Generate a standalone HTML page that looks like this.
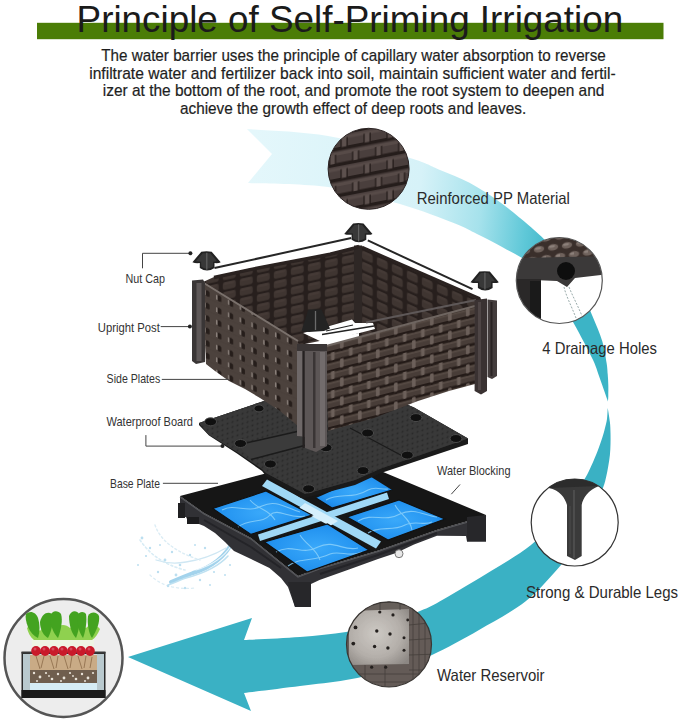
<!DOCTYPE html>
<html><head><meta charset="utf-8">
<style>
html,body{margin:0;padding:0;background:#fff;}
body{width:679px;height:722px;overflow:hidden;position:relative;font-family:"Liberation Sans",sans-serif;}
svg{position:absolute;left:0;top:0;display:block;}
</style></head>
<body>
<svg width="679" height="722" viewBox="0 0 679 722" font-family="Liberation Sans, sans-serif">
<defs>
  <linearGradient id="rib1" gradientUnits="userSpaceOnUse" x1="250" y1="165" x2="560" y2="200">
    <stop offset="0" stop-color="#e4f7fb"/>
    <stop offset="0.55" stop-color="#d6f2f8"/>
    <stop offset="0.75" stop-color="#a6e2ec"/>
    <stop offset="0.9" stop-color="#5fc8d8"/>
    <stop offset="1" stop-color="#3cb4c6"/>
  </linearGradient>
  <!-- weave patterns -->
  <pattern id="wvR" patternUnits="userSpaceOnUse" width="18" height="19" patternTransform="skewY(-14.3)">
    <rect width="18" height="19" fill="#241b18"/>
    <rect x="-1" y="0.8" width="20" height="6.6" rx="2.5" fill="#483d38"/>
    <rect x="-1" y="10.3" width="20" height="6.6" rx="2.5" fill="#483d38"/>
    <rect x="0" y="1.4" width="18" height="1.5" fill="#574b45"/>
    <rect x="0" y="10.9" width="18" height="1.5" fill="#574b45"/>
    <rect x="7" y="-1" width="3.6" height="9" rx="1.2" fill="#6c605a"/>
    <rect x="16" y="8.5" width="3.6" height="9" rx="1.2" fill="#6c605a"/>
    <rect x="-2" y="8.5" width="3.6" height="9" rx="1.2" fill="#6c605a"/>
  </pattern>
  <pattern id="wvL" patternUnits="userSpaceOnUse" width="11.8" height="12.5" patternTransform="skewY(23)">
    <rect width="11.8" height="12.5" fill="#4c423d"/>
    <rect x="0" y="9.5" width="11.8" height="1.5" fill="#4a403b"/>
    <rect x="5" y="2.5" width="4" height="6" rx="1.5" fill="#261e1b"/>
    <rect x="3.6" y="2.8" width="1.5" height="5" rx="0.7" fill="#8a807a"/>
  </pattern>
  <pattern id="wvIn" patternUnits="userSpaceOnUse" width="17" height="9.7" patternTransform="skewY(-12.2)">
    <rect width="17" height="9.7" fill="#271f1d"/>
    <rect x="1.8" y="1" width="13" height="7.5" rx="2" fill="#3f3531"/>
    <rect x="3" y="1.6" width="10" height="2" rx="1" fill="#453a36"/>
  </pattern>
  <pattern id="wvIn2" patternUnits="userSpaceOnUse" width="15" height="11" patternTransform="skewY(24)">
    <rect width="15" height="11" fill="#271f1d"/>
    <rect x="1.8" y="1" width="11" height="8.5" rx="2" fill="#3f3531"/>
    <rect x="3" y="1.6" width="8" height="2" rx="1" fill="#453a36"/>
  </pattern>
  <pattern id="dots" patternUnits="userSpaceOnUse" width="5" height="5" patternTransform="skewY(-18)">
    <rect width="5" height="5" fill="#3b3b3b"/>
    <circle cx="2.5" cy="2.5" r="1.1" fill="#222"/>
  </pattern>
  <pattern id="ppwv" patternUnits="userSpaceOnUse" width="23" height="31" patternTransform="skewY(-11)">
    <rect width="23" height="31" fill="#4a3f3d"/>
    <rect x="0" y="1" width="23" height="3" fill="#574b48"/>
    <rect x="0" y="16.5" width="23" height="3" fill="#574b48"/>
    <rect x="0" y="11.5" width="23" height="3.5" fill="#251d1b"/>
    <rect x="0" y="27" width="23" height="3.5" fill="#251d1b"/>
    <rect x="8" y="3" width="5" height="9" fill="#5d514e"/>
    <rect x="7" y="3" width="1.2" height="9" fill="#221a18"/>
    <rect x="13" y="3" width="1.2" height="9" fill="#221a18"/>
    <rect x="19.5" y="18.5" width="5" height="9" fill="#5d514e"/>
    <rect x="-3.5" y="18.5" width="5" height="9" fill="#5d514e"/>
    <rect x="18.5" y="18.5" width="1.2" height="9" fill="#221a18"/>
    <rect x="1.5" y="18.5" width="1.2" height="9" fill="#221a18"/>
  </pattern>
  <pattern id="bumps" patternUnits="userSpaceOnUse" width="14" height="20" patternTransform="skewY(-8)">
    <rect width="14" height="20" fill="#3a2f2b"/>
    <ellipse cx="7" cy="5" rx="5.2" ry="3.3" fill="#6f625c"/>
    <ellipse cx="6" cy="4" rx="3" ry="1.3" fill="#8c807a"/>
    <ellipse cx="0" cy="15" rx="5.2" ry="3.3" fill="#6f625c"/>
    <ellipse cx="14" cy="15" rx="5.2" ry="3.3" fill="#6f625c"/>
    <ellipse cx="13" cy="14" rx="3" ry="1.3" fill="#8c807a"/>
  </pattern>
  <radialGradient id="tileG" cx="0.5" cy="0.5" r="0.7">
    <stop offset="0" stop-color="#3aa9fa"/>
    <stop offset="0.6" stop-color="#2393f0"/>
    <stop offset="1" stop-color="#1477d6"/>
  </radialGradient>
  <linearGradient id="blueG" gradientUnits="userSpaceOnUse" x1="210" y1="480" x2="450" y2="560">
    <stop offset="0" stop-color="#1f8ff0"/>
    <stop offset="0.5" stop-color="#2a9cf0"/>
    <stop offset="1" stop-color="#1a86e6"/>
  </linearGradient>
  <radialGradient id="resG" cx="0.45" cy="0.45" r="0.7">
    <stop offset="0" stop-color="#cdc9c4"/>
    <stop offset="0.6" stop-color="#b4afaa"/>
    <stop offset="1" stop-color="#8d8884"/>
  </radialGradient>
  <clipPath id="cPP"><circle cx="368.6" cy="168.8" r="40.5"/></clipPath>
  <clipPath id="cDR"><circle cx="559.3" cy="280.5" r="43"/></clipPath>
  <clipPath id="cLG"><circle cx="574.7" cy="522.5" r="43.5"/></clipPath>
  <clipPath id="cWR"><circle cx="389" cy="644.3" r="42.5"/></clipPath>
  <clipPath id="cPL"><circle cx="63.5" cy="658" r="59"/></clipPath>
</defs>

<!-- header -->
<rect x="37" y="22.8" width="626.5" height="16.4" fill="#4b7d06"/>
<text x="76.6" y="32.2" font-size="37.4" fill="#1b1b1b" textLength="546.6" lengthAdjust="spacingAndGlyphs">Principle of Self-Priming Irrigation</text>
<g font-size="16.1" fill="#1e1e1e" stroke="#1e1e1e" stroke-width="0.2">
  <text x="101.2" y="61.1" textLength="504.6" lengthAdjust="spacingAndGlyphs">The water barrier uses the principle of capillary water absorption to reverse</text>
  <text x="89.2" y="78.65" textLength="526.5" lengthAdjust="spacingAndGlyphs">infiltrate water and fertilizer back into soil, maintain sufficient water and fertil-</text>
  <text x="102.8" y="96.2" textLength="501.6" lengthAdjust="spacingAndGlyphs">izer at the bottom of the root, and promote the root system to deepen and</text>
  <text x="180" y="113.8" textLength="346.2" lengthAdjust="spacingAndGlyphs">achieve the growth effect of deep roots and leaves.</text>
</g>

<!-- ribbon arrow -->
<path fill="url(#rib1)" d="M247.0,129.0 C260.5,130.2 300.8,131.2 328.0,136.0 C355.2,140.8 391.3,152.3 410.0,158.0 C428.7,163.7 430.1,165.9 440.0,170.0 C449.9,174.1 459.7,177.6 469.5,182.8 C479.3,188.1 489.2,194.5 499.0,201.5 C508.8,208.5 520.2,218.1 528.4,225.0 C536.6,231.9 542.2,237.2 548.0,243.0 C553.8,248.8 558.2,253.7 563.0,260.0 C567.8,266.3 572.2,271.8 577.0,281.0 C581.8,290.2 587.8,305.0 592.0,315.0 C596.2,325.0 599.8,333.0 602.2,341.0 C604.6,349.0 605.7,357.5 606.6,363.0 C607.5,368.5 607.4,370.3 607.7,374.0 C608.0,377.7 608.2,381.3 608.3,385.0 C608.4,388.7 608.3,393.2 608.3,396.0 C608.2,398.8 608.0,400.6 608.0,401.5 C607.7,400.6 607.0,398.8 606.0,396.0 C605.0,393.2 603.5,388.7 602.2,385.0 C600.9,381.3 599.6,377.7 598.3,374.0 C597.0,370.3 596.1,367.0 594.4,363.0 C592.7,359.0 589.9,353.7 588.0,350.0 C586.1,346.3 585.8,345.7 583.3,341.0 C580.8,336.3 577.7,330.2 573.0,322.0 C568.3,313.8 561.8,301.5 555.0,292.0 C548.2,282.5 540.7,272.4 532.0,265.0 C523.3,257.6 512.2,252.7 503.0,247.5 C493.8,242.3 485.0,238.0 477.0,234.0 C469.0,230.0 467.8,228.5 455.0,223.5 C442.2,218.5 421.2,210.1 400.0,204.0 C378.8,197.9 353.3,190.5 328.0,187.0 C302.7,183.5 261.3,183.7 248.0,183.0 L272,154 Z"/>
<path fill="#3ab1c4" d="M607.7,408.0 C608.1,410.3 609.4,417.8 609.9,422.0 C610.4,426.2 610.4,429.3 610.5,433.0 C610.6,436.7 610.6,440.3 610.5,444.0 C610.4,447.7 610.3,451.2 609.9,455.0 C609.5,458.8 608.9,462.7 608.2,466.5 C607.6,470.3 606.9,474.0 606.0,477.6 C605.1,481.2 605.3,481.8 603.0,488.0 C600.7,494.2 596.2,506.0 592.0,515.0 C587.8,524.0 583.2,533.7 578.0,542.0 C572.8,550.3 569.7,555.2 561.0,565.0 C552.3,574.8 539.7,590.2 526.0,601.0 C512.3,611.8 494.7,621.0 479.0,630.0 C463.3,639.0 446.8,648.3 432.0,655.0 C417.2,661.7 404.3,665.8 390.0,670.0 C375.7,674.2 361.0,677.3 346.0,680.0 C331.0,682.7 317.0,683.8 300.0,686.0 C283.0,688.2 253.3,691.8 244.0,693.0 L251,711 L128,657 L252,618 L244,640 C253.3,639.5 283.0,638.3 300.0,637.0 C317.0,635.7 332.0,634.3 346.0,632.0 C360.0,629.7 371.7,626.5 384.0,623.0 C396.3,619.5 410.0,615.0 420.0,611.0 C430.0,607.0 432.2,605.7 444.0,599.0 C455.8,592.3 476.5,580.0 491.0,571.0 C505.5,562.0 519.8,554.2 531.0,545.0 C542.2,535.8 550.7,524.5 558.0,516.0 C565.3,507.5 570.4,500.4 575.0,494.0 C579.6,487.6 582.8,482.2 585.5,477.6 C588.2,473.0 589.2,470.3 591.0,466.5 C592.8,462.7 594.2,459.4 596.0,455.0 C597.8,450.6 600.1,444.2 601.5,440.0 C602.9,435.8 603.6,433.5 604.5,430.0 C605.4,426.5 606.5,422.7 607.0,419.0 C607.5,415.3 607.6,409.8 607.7,408.0 Z"/>

<!-- CIRCLES -->
<!-- PP material -->
<g clip-path="url(#cPP)">
  <rect x="320" y="120" width="100" height="100" fill="url(#ppwv)"/>
</g>
<circle cx="368.6" cy="168.8" r="40.5" fill="none" stroke="#2a2222" stroke-width="1"/>
<!-- drainage -->
<g clip-path="url(#cDR)">
  <rect x="510" y="230" width="100" height="100" fill="#fff"/>
  <rect x="510" y="230" width="100" height="32" fill="url(#bumps)"/>
  <polygon points="510,258 610,256 610,274 575,278 567,287 557,281 510,279" fill="#3b3939"/>
  <polygon points="510,279 541,279 541,330 510,330" fill="#2a2828"/>
  <polygon points="530,281 541,281 541,318 530,316" fill="#1a1a1a"/>
  <circle cx="566" cy="271" r="9" fill="#0e0e0e"/>
  <path d="M564,287 C566,296 571,305 576,318 M569,287 C573,297 578,306 582,316" stroke="#9aa" stroke-width="1" stroke-dasharray="2,1.5" fill="none"/>
</g>
<circle cx="559.3" cy="280.5" r="43" fill="none" stroke="#555" stroke-width="1.2"/>
<!-- legs -->
<circle cx="574.7" cy="522.5" r="43.5" fill="#fff" stroke="#333" stroke-width="1.2"/>
<g clip-path="url(#cLG)">
  <path d="M540,478 L612,478 L599,486 C588,490 583,498 581.7,505 L581.7,556 L575,560 L567,556 L567,505 C565,498 560,490 548.6,488 Z" fill="#3a3a3a"/>
  <path d="M540,478 L612,478 L599,486 L548.6,488 Z" fill="#2c2c2c"/>
  <line x1="574" y1="490" x2="574" y2="558" stroke="#5a5a5a" stroke-width="1.2"/>
  <line x1="570" y1="506" x2="570" y2="554" stroke="#4c4c4c" stroke-width="1"/>
</g>
<!-- reservoir -->
<g clip-path="url(#cWR)">
  <rect x="340" y="595" width="100" height="100" fill="#645c58"/>
  <polygon points="349,610 409,608 409,664 349,665" fill="url(#resG)"/>
  <polygon points="340,595 440,595 440,609 409,609 349,611 340,611" fill="#675f5b"/>
  <g stroke="#3e3835" stroke-width="0.8" opacity="0.8">
    <line x1="413" y1="600" x2="413" y2="690"/><line x1="419" y1="600" x2="419" y2="690"/><line x1="425" y1="600" x2="425" y2="690"/>
    <line x1="409" y1="625" x2="440" y2="622"/><line x1="409" y1="640" x2="440" y2="638"/><line x1="409" y1="655" x2="440" y2="654"/><line x1="409" y1="670" x2="440" y2="670"/>
    <line x1="340" y1="674" x2="440" y2="674"/><line x1="340" y1="682" x2="440" y2="682"/>
    <line x1="365" y1="665" x2="365" y2="690"/><line x1="385" y1="665" x2="385" y2="690"/>
    <line x1="350" y1="603" x2="440" y2="601"/><line x1="380" y1="595" x2="380" y2="610"/><line x1="400" y1="595" x2="400" y2="610"/>
  </g>
  <g fill="#24201e">
    <circle cx="355.5" cy="627.4" r="1.9"/><circle cx="353.3" cy="643.6" r="1.9"/>
    <circle cx="376.8" cy="631" r="1.7"/><circle cx="390" cy="634" r="1.7"/>
    <circle cx="374.6" cy="646.5" r="1.7"/><circle cx="387.9" cy="648" r="1.7"/>
    <circle cx="379.8" cy="612" r="1.6"/><circle cx="393" cy="614.9" r="1.6"/>
    <circle cx="371.7" cy="667.2" r="1.6"/><circle cx="385.7" cy="667.2" r="1.6"/>
    <circle cx="404" cy="637.7" r="1.5"/><circle cx="404" cy="650.2" r="1.5"/><circle cx="407.7" cy="620" r="1.4"/>
  </g>
</g>
<circle cx="389" cy="644.3" r="42.5" fill="none" stroke="#3a3633" stroke-width="1.2"/>
<!-- plants circle -->
<circle cx="63.5" cy="658" r="59" fill="#ededed" stroke="#555" stroke-width="2.5"/>
<g>
  <rect x="21.5" y="652" width="84" height="46" fill="#2a2a2a"/>
  <rect x="23" y="654" width="81" height="36" fill="#cfdde0"/>
  <rect x="30" y="655" width="67" height="16" fill="#c9ab86"/>
  <g stroke="#8a6a48" stroke-width="0.8" fill="none">
    <path d="M36,656 L40,669 M44,656 L41,668 M50,656 L54,669 M58,656 L56,668 M64,656 L68,669 M72,656 L70,668 M78,656 L82,669 M86,656 L84,668 M92,657 L90,668"/>
  </g>
  <rect x="30" y="670" width="67" height="13" fill="#6f5e4e"/>
  <g fill="#e8e2d8">
    <circle cx="34" cy="673" r="1.2"/><circle cx="40" cy="677" r="1.4"/><circle cx="46" cy="673" r="1.1"/><circle cx="52" cy="679" r="1.3"/>
    <circle cx="58" cy="674" r="1.2"/><circle cx="64" cy="678" r="1.4"/><circle cx="70" cy="673" r="1.1"/><circle cx="76" cy="679" r="1.3"/>
    <circle cx="82" cy="674" r="1.2"/><circle cx="88" cy="678" r="1.4"/><circle cx="93" cy="673" r="1.1"/><circle cx="37" cy="681" r="1"/>
    <circle cx="61" cy="681" r="1"/><circle cx="85" cy="681" r="1"/><circle cx="49" cy="676" r="0.9"/><circle cx="73" cy="676" r="0.9"/>
  </g>
  <rect x="30" y="683" width="67" height="7" fill="#d6ecf4"/>
  <rect x="23" y="654" width="7" height="36" fill="#b9c9ce"/>
  <rect x="97" y="654" width="7" height="36" fill="#b9c9ce"/>
  <rect x="21.5" y="690" width="84" height="8" fill="#1b1b1b"/>
  <rect x="21.5" y="651.5" width="84" height="2" fill="#3a3a3a"/>
  <g fill="#eef5e4">
    <rect x="32" y="636" width="62" height="12" rx="3"/>
  </g>
  <g fill="#c91a2a">
    <ellipse cx="36" cy="651" rx="4.8" ry="5"/><ellipse cx="45" cy="651" rx="4.8" ry="5"/>
    <ellipse cx="54" cy="651" rx="4.8" ry="5"/><ellipse cx="63" cy="651" rx="4.8" ry="5"/>
    <ellipse cx="72" cy="651" rx="4.8" ry="5"/><ellipse cx="81" cy="651" rx="4.8" ry="5"/>
    <ellipse cx="90" cy="651" rx="4.8" ry="5"/>
  </g>
  <g fill="#e07080" opacity="0.6">
    <ellipse cx="35" cy="649" rx="1.5" ry="1.5"/><ellipse cx="44" cy="649" rx="1.5" ry="1.5"/><ellipse cx="53" cy="649" rx="1.5" ry="1.5"/>
    <ellipse cx="62" cy="649" rx="1.5" ry="1.5"/><ellipse cx="71" cy="649" rx="1.5" ry="1.5"/><ellipse cx="80" cy="649" rx="1.5" ry="1.5"/><ellipse cx="89" cy="649" rx="1.5" ry="1.5"/>
  </g>
  <g fill="#8fd14f">
    <path d="M27,628 C31,624 36,626 40,631 C44,625 50,624 56,628 C60,624 66,624 70,628 C74,624 80,624 86,628 C90,624 96,624 100,629 C98,634 95,638 92,640 L34,640 C30,637 28,632 27,628 Z"/>
  </g>
  <g fill="#43a320">
    <path d="M26,614 C30,610 36,612 38,618 C40,624 40,632 38,638 C34,636 30,632 28,627 C26,622 25,617 26,614 Z"/>
    <path d="M40,622 C42,613 48,611 52,614 C54,620 52,630 48,638 C44,636 40,630 40,622 Z"/>
    <path d="M50,616 C52,610 58,610 61,614 C63,620 61,630 58,638 C54,634 50,626 50,616 Z"/>
    <path d="M69,616 C71,610 77,610 79,614 C81,620 79,630 76,638 C72,634 69,626 69,616 Z"/>
    <path d="M77,616 C79,611 84,611 86,614 C87,620 86,630 83,638 C80,634 77,626 77,616 Z"/>
    <path d="M88,616 C91,611 97,612 99,616 C100,622 97,630 92,638 C89,634 87,624 88,616 Z"/>
  </g>
</g>

<!-- right labels -->
<g fill="#2a2a2a" font-size="16.5">
  <text x="416.8" y="203.8" textLength="153" lengthAdjust="spacingAndGlyphs">Reinforced PP Material</text>
  <text x="542.3" y="354.4" textLength="114.6" lengthAdjust="spacingAndGlyphs">4 Drainage Holes</text>
  <text x="526" y="598.4" textLength="152.1" lengthAdjust="spacingAndGlyphs">Strong &amp; Durable Legs</text>
  <text x="437" y="680.8" textLength="107.5" lengthAdjust="spacingAndGlyphs">Water Reservoir</text>
</g>

<!-- PRODUCT -->
<!-- splash -->
<g fill="none" stroke-linecap="round">
  <path d="M233,541 C226,556 211,568 193,573 C185,576 178,579 171,582" stroke="#a3d3ec" stroke-width="4"/>
  <path d="M231,546 C223,558 210,566 196,570" stroke="#e8f5fb" stroke-width="1.2"/>
  <path d="M228,556 C219,566 205,573 186,578 C180,580 174,583 168,585" stroke="#bfe1f1" stroke-width="1.6"/>
  <path d="M226,548 C214,555 200,560 186,562 C175,564 165,563 156,560" stroke="#cfe7f3" stroke-width="1.3"/>
  <path d="M140,540 C150,555 165,565 185,570" stroke="#d8ecf5" stroke-width="1.6" stroke-dasharray="2,2.5"/>
  <path d="M155,525 C160,540 175,552 200,560" stroke="#dcedf5" stroke-width="1.4" stroke-dasharray="2,2.5"/>
  <path d="M150,575 C160,585 175,590 195,588" stroke="#dcedf5" stroke-width="1.3" stroke-dasharray="2,3"/>
</g>
<g fill="#bcdff0">
  <circle cx="165" cy="560" r="1.4"/><circle cx="172" cy="552" r="1.2"/><circle cx="180" cy="565" r="1.3"/>
  <circle cx="190" cy="555" r="1.2"/><circle cx="158" cy="572" r="1.2"/><circle cx="205" cy="548" r="1.2"/>
  <circle cx="150" cy="548" r="1.2"/><circle cx="168" cy="586" r="1.2"/><circle cx="185" cy="588" r="1.2"/>
  <circle cx="200" cy="580" r="1.2"/><circle cx="214" cy="572" r="1.1"/><circle cx="176" cy="575" r="1.4"/>
  <circle cx="225" cy="575" r="1"/><circle cx="230" cy="565" r="1.1"/><circle cx="142" cy="538" r="1.4"/>
  <circle cx="146" cy="556" r="1.1"/><circle cx="160" cy="545" r="1"/><circle cx="195" cy="545" r="1"/>
  <circle cx="210" cy="585" r="1"/><circle cx="138" cy="565" r="1"/>
</g>
<!-- tray body -->
<polygon points="180,496 204,513 251,538 288,568 298,576 319.5,568 378.4,550.4 437.3,529.8 478.5,518 486,515 486,541.5 467,541.5 466,536 437,535.7 414,544.5 396,553 378,559 349,569.5 319.5,580 311,584 311,607 295,607 288,587 281,578 269.5,568 251,559 234,551 225,542 215,533 204,526 199,524 189,523 186,517 180,517" fill="#313135"/>
<polygon points="180,496 340,454 486,515 478.5,518 437.3,529.8 378.4,550.4 319.5,568 298,576 288,568 251,538 204,513" fill="#161616"/>
<polyline points="180,497 204,514 251,539 288,569 298,577 319.5,569 378.4,551.4 437.3,530.8 478.5,519 486,516" stroke="#56575b" stroke-width="1.2" fill="none"/>
<polyline points="204,520 251,547 281,568" stroke="#242428" stroke-width="2" fill="none"/>
<polyline points="320,574 378,555 437,533" stroke="#242428" stroke-width="2" fill="none"/>
<polygon points="178,503 185,503 185,518 178,518" fill="#202022"/>
<polygon points="187,517 199,517 199,524 187,524" fill="#1c1c1e"/>
<polygon points="288,582 311,582 311,607 295,607" fill="#27272a"/>
<polygon points="467,517 486,515 486,541.5 467,541.5" fill="#27272a"/>
<!-- blue basin -->
<polygon points="258,534.5 387,492.5 389,499 260,541" fill="#9fd8f6"/>
<polygon points="267,479.5 381,541.5 376,548.5 262,486" fill="#9fd8f6"/>
<polygon points="305,503 338,521 330,526 298,509" fill="#d6f0fc"/>
<g fill="url(#tileG)">
  <polygon points="212.7,508.5 266,491 312,515 251,534.4"/>
  <polygon points="264.4,542 327.5,524 369,550 307,572"/>
  <polygon points="347,517 399,500 445,519 388,540"/>
  <polygon points="316,498 368,475 392,490 332,508"/>
</g>
<g fill="none" stroke="#8fd3fb" stroke-width="1.1" opacity="0.8">
  <path d="M222,510 C236,503 246,514 262,506 C276,499 286,508 300,512"/>
  <path d="M238,527 C250,518 262,524 270,515 C278,507 290,520 305,516"/>
  <path d="M250,500 C258,510 268,508 275,520"/>
  <path d="M276,552 C292,543 302,556 318,547 C334,539 344,552 358,548"/>
  <path d="M288,566 C300,557 314,562 330,554 C340,550 350,558 362,552"/>
  <path d="M300,535 C306,545 316,548 320,560"/>
  <path d="M358,521 C373,512 384,523 400,514 C414,507 425,516 437,517"/>
  <path d="M368,533 C380,525 392,532 405,525 C415,520 425,526 432,522"/>
  <path d="M395,505 C400,515 410,518 412,530"/>
  <path d="M326,500 C340,492 352,500 368,490 C375,486 382,490 388,489"/>
</g>
<g fill="none" stroke="#111" stroke-width="1.2">
  <polygon points="212.7,508.5 266,491 312,515 251,534.4"/>
  <polygon points="264.4,542 327.5,524 369,550 307,572"/>
  <polygon points="347,517 399,500 445,519 388,540"/>
  <polyline points="316,498 332,508 392,490"/>
</g>
<circle cx="399" cy="553.7" r="4" fill="#e8e8e8" stroke="#777" stroke-width="1"/>

<!-- board -->
<polygon points="199,423 258,403 340,376 414,407.6 468,438.5 468,444 414,462 381,473 355,485 305,498 301,498 266,476 262,471 237,453.5 209,435.5 199,425" fill="#1a1a1a"/>
<polygon points="199,423 258,403 340,376 414,407.6 468,438.5 414,457.3 381,468.4 355,480 305,494 266,473 262,469 237,452 208,434" fill="#353535"/>
<polygon points="199,423 258,403 340,376 414,407.6 468,438.5 414,457.3 381,468.4 355,480 305,494 266,473 262,469 237,452 208,434" fill="url(#dots)" opacity="0.6"/>
<polygon points="237,445 304,430 318,441 251,459" fill="#3b3b3b"/>
<g stroke="#1b1b1b" stroke-width="1.4" fill="none">
  <line x1="237" y1="445" x2="304" y2="430"/>
  <line x1="251" y1="459.5" x2="318" y2="442"/>
  <line x1="350" y1="428" x2="410" y2="460"/>
</g>
<g fill="#101010" stroke="#4a4a4a" stroke-width="1">
  <ellipse cx="210.6" cy="421.8" rx="6" ry="4"/>
  <ellipse cx="240.5" cy="443.5" rx="6" ry="4"/>
  <ellipse cx="270.4" cy="464" rx="6" ry="4"/>
  <ellipse cx="259" cy="408.4" rx="5" ry="3.5"/>
  <ellipse cx="308.6" cy="488.8" rx="6" ry="4"/>
  <ellipse cx="416" cy="417.6" rx="6" ry="4"/>
  <ellipse cx="367.6" cy="433" rx="6" ry="4"/>
  <ellipse cx="456" cy="438.5" rx="6" ry="4"/>
  <ellipse cx="407.3" cy="455.1" rx="6" ry="4"/>
  <ellipse cx="363" cy="470.6" rx="6" ry="4"/>
  <ellipse cx="326" cy="447.7" rx="6" ry="4"/>
</g>

<!-- BOX -->
<!-- interior walls -->
<polygon points="203,282 214,277 250,268.6 330,253.3 355,247 359,245.5 359,333 300,345" fill="url(#wvIn)"/>
<polygon points="359,245.5 362,247 481,298.5 481,305 359,337" fill="url(#wvIn2)"/>
<rect x="354" y="245.5" width="8" height="86" fill="#2e2725"/>
<polygon points="303,333 326,327 352,319.5 355,323 373,323 375,329 323,342.5" fill="#fff"/>
<line x1="366" y1="322.5" x2="476" y2="300" stroke="#5e5858" stroke-width="2"/>
<line x1="322" y1="334.5" x2="374" y2="326" stroke="#222" stroke-width="1.6"/>
<line x1="326" y1="331" x2="353" y2="325" stroke="#222" stroke-width="1.2"/>
<!-- center nut cap -->
<polygon points="308.3,309.5 321.5,309.5 330,328.5 324,331 309,332 301.5,331" fill="#232323"/>
<line x1="315.5" y1="311" x2="315.5" y2="330" stroke="#6a6a6a" stroke-width="1.3"/>
<!-- wall tops / rails -->
<polyline points="214,277.5 250,269.6 330,254.3 355,248 359,246.5" stroke="#2a2220" stroke-width="3.5" fill="none"/>
<polyline points="362,247 480,298.5" stroke="#2a2220" stroke-width="2.5" fill="none"/>
<polyline points="214.5,268 351.2,238.1" stroke="#262626" stroke-width="2" fill="none"/>
<polyline points="367.8,240.4 472.5,289.2" stroke="#262626" stroke-width="2" fill="none"/>

<!-- front left plate -->
<polygon points="202,282 298,341 298,426 280,411 260,398 245,389 237,385 229,381 215,371 206,364" fill="url(#wvL)"/>
<polyline points="203,282.5 298,341" stroke="#7a716c" stroke-width="2" fill="none"/>
<!-- front right plate -->
<polygon points="326,346 475,306 475,384 449,391 418,401 374,418 328,431" fill="url(#wvR)"/>
<polyline points="326,346 475,306" stroke="#6e6560" stroke-width="2" fill="none"/>

<!-- posts -->
<polygon points="192,280.5 203,279.5 205,283 205,362 196,364 192,361" fill="#3a3636"/>
<rect x="196.5" y="283" width="5" height="78" fill="#5e5858"/>
<polygon points="297,345 327,345 327,446 316,452 305,448 305,437 297,436" fill="#5c5656"/>
<rect x="297" y="350" width="5" height="86" fill="#6e6868"/>
<rect x="302.5" y="350" width="2.2" height="98" fill="#252121"/>
<rect x="313" y="352" width="2.5" height="96" fill="#3a3535"/>
<rect x="320" y="352" width="5" height="94" fill="#726c6c"/>
<rect x="297" y="344" width="30" height="7" fill="#3a3535"/>
<polygon points="474.6,300 487,298.5 487,391 481,394.5 474.6,391" fill="#3a3232"/>
<rect x="478" y="302" width="3" height="88" fill="#4e4545"/>
<polygon points="487.5,299.5 497,300.5 497,376 492,379 487.5,377" fill="#443d3d"/>
<rect x="490.5" y="302" width="2" height="74" fill="#2a2424"/>

<!-- nut caps -->
<g transform="translate(206.5,251.7)">
  <path d="M-5.2,0 Q0,-0.8 5.2,0 L14.2,10.6 Q12,11.8 8,11.3 L8,16.3 Q0.5,21.5 -6.7,16.3 L-6.7,11.3 Q-11,11.8 -14.1,10.6 Z" fill="#222"/>
  <path d="M-3.8,1.5 L3.8,1.5 L10.5,9.6 L6.6,10 L6.4,15 Q0.3,19 -5.2,15 L-5.4,10 L-10.6,9.6 Z" fill="#383838"/>
  <line x1="0.3" y1="1" x2="0.3" y2="18" stroke="#626262" stroke-width="1.2"/>
</g>
<g transform="translate(358.3,223.4)">
  <path d="M-5.2,0 Q0,-0.8 5.2,0 L14.2,10.6 Q12,11.8 8,11.3 L8,16.3 Q0.5,21.5 -6.7,16.3 L-6.7,11.3 Q-11,11.8 -14.1,10.6 Z" fill="#222"/>
  <path d="M-3.8,1.5 L3.8,1.5 L10.5,9.6 L6.6,10 L6.4,15 Q0.3,19 -5.2,15 L-5.4,10 L-10.6,9.6 Z" fill="#383838"/>
  <line x1="0.3" y1="1" x2="0.3" y2="18" stroke="#626262" stroke-width="1.2"/>
</g>
<g transform="translate(484.6,271.6)">
  <path d="M-5.2,0 Q0,-0.8 5.2,0 L14.2,10.6 Q12,11.8 8,11.3 L8,16.3 Q0.5,21.5 -6.7,16.3 L-6.7,11.3 Q-11,11.8 -14.1,10.6 Z" fill="#222"/>
  <path d="M-3.8,1.5 L3.8,1.5 L10.5,9.6 L6.6,10 L6.4,15 Q0.3,19 -5.2,15 L-5.4,10 L-10.6,9.6 Z" fill="#383838"/>
  <line x1="0.3" y1="1" x2="0.3" y2="18" stroke="#626262" stroke-width="1.2"/>
</g>


<!-- left labels -->
<g fill="#333" font-size="12.2">
  <text x="125.5" y="283.3" textLength="39.5" lengthAdjust="spacingAndGlyphs">Nut Cap</text>
  <text x="97.8" y="332" textLength="62" lengthAdjust="spacingAndGlyphs">Upright Post</text>
  <text x="106.6" y="383.2" textLength="53.6" lengthAdjust="spacingAndGlyphs">Side Plates</text>
  <text x="106.5" y="426.3" textLength="86.5" lengthAdjust="spacingAndGlyphs">Waterproof Board</text>
  <text x="110" y="487.7" textLength="50" lengthAdjust="spacingAndGlyphs">Base Plate</text>
  <text x="437" y="474.7" textLength="73.5" lengthAdjust="spacingAndGlyphs">Water Blocking</text>
</g>
<g stroke="#444" stroke-width="1" fill="none">
  <polyline points="142.5,268.3 142.5,253.3 190.4,253.3"/>
  <line x1="160.7" y1="326.6" x2="189.9" y2="326.6"/>
  <line x1="161.8" y1="379.4" x2="229" y2="379.4"/>
  <polyline points="145.9,435.1 145.9,446.1 222.5,446.1"/>
  <line x1="162.9" y1="483.3" x2="218" y2="483.3"/>
  <line x1="460" y1="484.5" x2="451.3" y2="494.2"/>
</g>
<g fill="#222">
  <circle cx="190.4" cy="253.3" r="2"/>
  <circle cx="189.9" cy="326.6" r="2"/>
  <circle cx="222.5" cy="445.9" r="2"/>
</g>
</svg>
</body></html>
